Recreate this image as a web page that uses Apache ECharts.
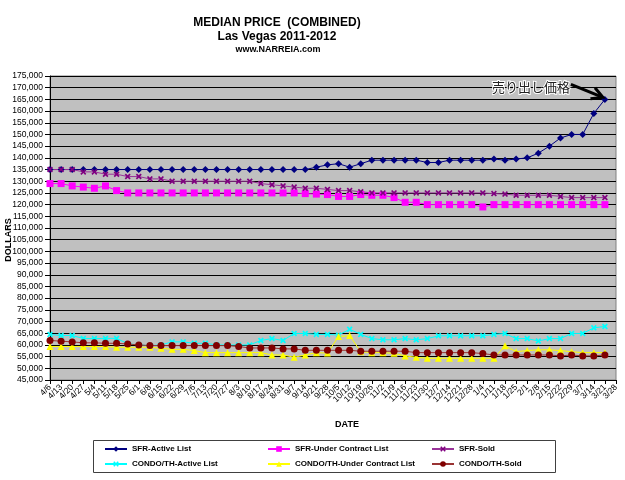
<!DOCTYPE html>
<html>
<head>
<meta charset="utf-8">
<script src="https://cdn.jsdelivr.net/npm/echarts@6/dist/echarts.min.js"></script>
<style>
  html, body { margin: 0; padding: 0; background: #fff; }
  #chart { width: 625px; height: 480px; }
</style>
</head>
<body>
<div id="chart"></div>
<script>
const dates = ['4/6','4/13','4/20','4/27','5/4','5/11','5/18','5/25','6/1','6/8','6/15','6/22','6/29',
  '7/6','7/13','7/20','7/27','8/3','8/10','8/17','8/24','8/31','9/7','9/14','9/21','9/28',
  '10/5','10/12','10/19','10/26','11/2','11/9','11/16','11/23','11/30','12/7','12/14','12/21','12/28',
  '1/4','1/11','1/18','1/25','2/1','2/8','2/15','2/22','2/29','3/7','3/14','3/21','3/28'];

const sfrActive = [135000,135000,135000,135000,135000,135000,135000,135000,135000,135000,135000,135000,
  135000,135000,135000,135000,135000,135000,135000,135000,135000,135000,135000,135000,
  136000,137000,137500,136000,137500,139000,139000,139000,139000,139000,138000,138000,
  139000,139000,139000,139000,139500,139000,139500,140000,142000,145000,148500,150000,150000,159000,165000];

const sfrUnder = [129000,129000,128000,127500,127000,128000,126000,
  125000,125000,125000,125000,125000,125000,125000,125000,125000,125000,125000,125000,125000,125000,125000,125000,
  124700,124500,124300,123500,123500,124300,124000,124000,123000,121000,121000,
  120000,120000,120000,120000,120000,119000,
  120000,120000,120000,120000,120000,120000,120000,120000,120000,120000,120000];

const sfrSold = [135000,135000,135000,134000,134000,133000,133000,132000,132000,131000,131000,
  130000,130000,130000,130000,130000,130000,130000,130000,
  129000,128500,128000,127500,127000,127000,126500,126000,126000,125500,
  125000,125000,125000,125000,125000,125000,125000,125000,125000,125000,125000,
  124700,124500,124000,124000,124000,124000,123500,123000,123000,123000,123000];

const condoActive = [64500,64000,64000,62800,62700,62800,62800,60500,60000,59700,
  60000,61300,61300,60700,60700,60000,60000,60000,60000,61900,
  62700,61900,64900,64900,64500,64500,64200,66700,64500,62700,
  62200,62200,62700,62200,62700,63900,63900,63900,63900,63900,
  64500,64900,62700,62700,61700,62700,62700,64900,64900,67300,67900];

const condoUnder = [59300,59300,59300,59300,59300,59300,59000,59000,59000,59000,
  58600,58100,58100,57600,56700,56700,56700,56700,56700,56700,
  55700,55700,54700,55700,56700,56500,63600,64000,57100,56700,
  56700,56400,55300,54700,54300,54300,54300,54300,54300,54300,
  54300,59600,57100,57600,57900,57900,57600,57100,56700,56700,56700];

const condoSold = [61900,61600,61300,60900,60900,60700,60700,60400,60000,
  59700,59700,59700,59700,59700,59700,59700,59700,59300,
  58700,58700,58700,58300,58300,
  57700,57700,57700,57700,57700,57300,57300,57300,57300,57300,
  56700,56700,56700,56700,56700,56700,56300,
  55700,55700,55700,55700,55700,55700,55300,55700,55300,55300,55700];

const legendCols = [
  ['SFR-Active List', 'CONDO/TH-Active List'],
  ['SFR-Under Contract List', 'CONDO/TH-Under Contract List'],
  ['SFR-Sold', 'CONDO/TH-Sold']
];

const FONT = '"Liberation Sans", Arial, sans-serif';
const xMark = 'path://M0,2L2,0L5,3L8,0L10,2L7,5L10,8L8,10L5,7L2,10L0,8L3,5Z';

function line(name, data, color, symbol, size, lineColor) {
  return {
    name: name,
    type: 'line',
    data: data,
    symbol: symbol,
    symbolSize: size,
    showSymbol: true,
    itemStyle: { color: color },
    lineStyle: { color: lineColor || color, width: 1 },
    emphasis: { disabled: true }
  };
}

const legendLeft = [104, 267, 431];

const chart = echarts.init(document.getElementById('chart'));
chart.setOption({
  animation: false,
  textStyle: { fontFamily: FONT },
  title: [
    { text: 'MEDIAN PRICE  (COMBINED)', left: 277, top: 17, padding: 0, textAlign: 'center',
      textStyle: { fontSize: 12, fontWeight: 'bold', color: '#000', fontFamily: FONT } },
    { text: 'Las Vegas 2011-2012', left: 277, top: 31, padding: 0, textAlign: 'center',
      textStyle: { fontSize: 12, fontWeight: 'bold', color: '#000', fontFamily: FONT } },
    { text: 'www.NARREIA.com', left: 278, top: 45, padding: 0, textAlign: 'center',
      textStyle: { fontSize: 9, fontWeight: 'bold', color: '#000', fontFamily: FONT } }
  ],
  grid: {
    left: 50, right: 9, top: 76, bottom: 100,
    containLabel: false, outerBoundsMode: 'none',
    show: true, backgroundColor: '#C0C0C0', borderColor: '#808080', borderWidth: 1
  },
  legend: legendCols.map((names, i) => ({
    orient: 'vertical',
    left: legendLeft[i], top: 445,
    itemWidth: 22, itemHeight: 7, itemGap: 7,
    padding: 0,
    textStyle: { fontSize: 8, fontWeight: 'bold', color: '#000', fontFamily: FONT },
    data: names
  })),
  xAxis: {
    type: 'category',
    data: dates,
    boundaryGap: false,
    name: 'DATE',
    nameLocation: 'middle',
    nameGap: 40,
    nameMoveOverlap: false,
    nameTextStyle: { fontSize: 9, fontWeight: 'bold', color: '#000', padding: [0, 0, 0, 28] },
    axisLine: { lineStyle: { color: '#000', width: 1 } },
    axisTick: { show: true, length: 4, lineStyle: { color: '#000' } },
    axisLabel: { interval: 0, rotate: 45, fontSize: 8.5, color: '#000', margin: 6 },
    splitLine: { show: false }
  },
  yAxis: {
    type: 'value',
    min: 45000, max: 175000, interval: 5000,
    name: 'DOLLARS',
    nameLocation: 'middle',
    nameGap: 37,
    nameRotate: 90,
    nameMoveOverlap: false,
    nameTextStyle: { fontSize: 9, fontWeight: 'bold', color: '#000', padding: [0, 24, 0, 0] },
    axisLine: { show: true, lineStyle: { color: '#000', width: 1 } },
    axisTick: { show: true, length: 5, lineStyle: { color: '#000' } },
    axisLabel: { fontSize: 8.5, color: '#000', margin: 7,
      formatter: v => v.toLocaleString('en-US') },
    splitLine: { show: true, lineStyle: { color: '#000', width: 1 } }
  },
  series: [
    line('SFR-Active List', sfrActive, '#000080', 'diamond', 7),
    line('SFR-Under Contract List', sfrUnder, '#FF00FF', 'rect', 7),
    line('SFR-Sold', sfrSold, '#800080', xMark, 6, '#993399'),
    line('CONDO/TH-Active List', condoActive, '#00FFFF', xMark, 6),
    line('CONDO/TH-Under Contract List', condoUnder, '#FFFF00', 'triangle', 7),
    line('CONDO/TH-Sold', condoSold, '#800000', 'circle', 7, '#993333')
  ]
});

// annotation anchored to the last SFR-Active point
const lastIdx = sfrActive.length - 1;
const p = chart.convertToPixel({ xAxisIndex: 0, yAxisIndex: 0 }, [lastIdx, sfrActive[lastIdx]]);
const ex = p[0] - 2, ey = p[1] - 2;
const sx = ex - 32, sy = ey - 13;
const len = Math.hypot(ex - sx, ey - sy);
const dx = (ex - sx) / len, dy = (ey - sy) / len;
const nx = -dy, ny = dx;
chart.setOption({
  graphic: [
    { type: 'rect', shape: { x: 93.5, y: 440.5, width: 462, height: 32 },
      style: { fill: '#fff', stroke: '#404040', lineWidth: 1 }, z: -1 },
    { type: 'line', shape: { x1: sx, y1: sy, x2: ex - dx * 2, y2: ey - dy * 2 },
      style: { stroke: '#000', lineWidth: 3 }, z: 100 },
    { type: 'polyline',
      shape: { points: [[ex - dx * 11 + nx * 6, ey - dy * 11 + ny * 6], [ex, ey],
                        [ex - dx * 11 - nx * 6, ey - dy * 11 - ny * 6]] },
      style: { stroke: '#000', lineWidth: 3, fill: null }, z: 100 },
    { type: 'text', x: sx - 1, y: sy + 3,
      style: { text: '売り出し価格', fill: '#222', font: '13px "Noto Sans CJK JP"',
               align: 'right', verticalAlign: 'middle',
               stroke: '#fff', lineWidth: 2 }, z: 100 }
  ]
});
</script>
</body>
</html>
